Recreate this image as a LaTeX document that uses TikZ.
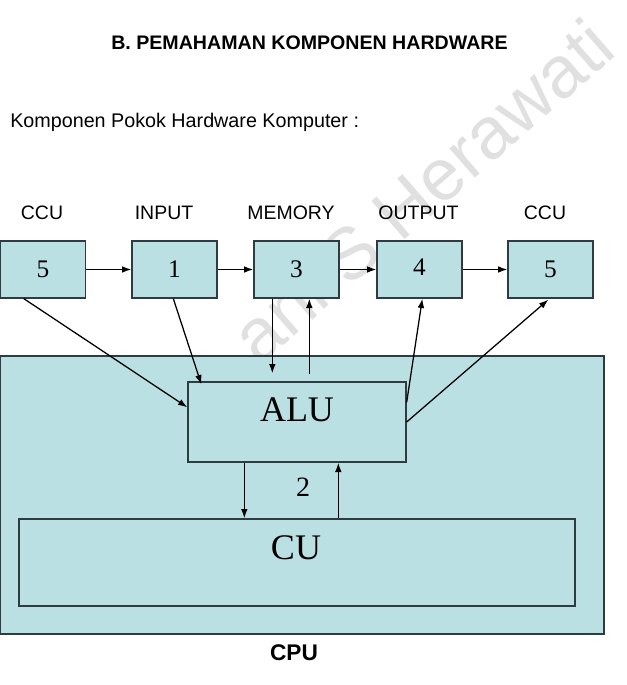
\documentclass[tikz,border=0pt]{standalone}
\usepackage{fontspec}
\setmainfont{Liberation Serif}
\newfontfamily\arialfont{Liberation Sans}
\usetikzlibrary{arrows.meta,calc}
\definecolor{boxfill}{HTML}{BBE0E3}
\definecolor{boxline}{HTML}{2E3B40}
\definecolor{wmark}{HTML}{E0E0E0}
\begin{document}
\begin{tikzpicture}[x=0.75pt,y=-0.75pt,
  box/.style={draw=boxline,fill=boxfill,line width=1pt,inner sep=0pt},
  topbox/.style={box,minimum width=63.75pt,minimum height=42.75pt,font=\fontsize{19pt}{21pt}\selectfont},
  sanslabel/.style={font=\arialfont\fontsize{14.6pt}{16pt}\selectfont,inner sep=0pt},
  arr/.style={-{Latex[length=7pt,width=5pt]},line width=0.95pt,black},
  bigtext/.style={font=\fontsize{27pt}{30pt}\selectfont,inner sep=0pt}]
\useasboundingbox (0,0) rectangle (626,685);
% watermark
\node[font=\arialfont\fontsize{55pt}{60pt}\selectfont,text=wmark,rotate=41,inner sep=0pt] (wm) at (422,190) {ani S Herawati};
% titles
\node[sanslabel,font=\arialfont\bfseries\fontsize{14.7pt}{16pt}\selectfont] (title) at (309.5,43) {B. PEMAHAMAN KOMPONEN HARDWARE};
\node[sanslabel,anchor=west,font=\arialfont\fontsize{14.8pt}{16pt}\selectfont] (sub) at (10,122) {Komponen Pokok Hardware Komputer :};
% labels
\node[sanslabel] (l1) at (42,213) {CCU};
\node[sanslabel] (l2) at (164,213) {INPUT};
\node[sanslabel] (l3) at (291,213) {MEMORY};
\node[sanslabel] (l4) at (418.5,213) {OUTPUT};
\node[sanslabel] (l5) at (545,213) {CCU};
% top boxes
\node[topbox] (b1) at (43,269.5) {5};
\node[topbox] (b2) at (174.5,269.5) {1};
\node[topbox] (b3) at (296.5,269.5) {3};
\node[topbox] (b4) at (419.5,269.5) {\raisebox{3pt}{4}};
\node[topbox] (b5) at (550.5,269.5) {5};
% CPU
\node[box,minimum width=453pt,minimum height=208.5pt] (cpu) at (302,495) {};
\node[box,minimum width=163.5pt,minimum height=60pt] (alu) at (297,422) {};
\node[box,minimum width=417pt,minimum height=65.25pt] (cu) at (297,562.5) {};
\node[bigtext] (alut) at (297,410) {ALU};
\node[bigtext] (cut) at (296,548) {CU};
\node[font=\fontsize{21pt}{24pt}\selectfont,inner sep=0pt] (two) at (303,487) {2};
\node[font=\arialfont\bfseries\fontsize{17pt}{19pt}\selectfont,inner sep=0pt] (cpul) at (294,653) {CPU};
% horizontal arrows
\draw[arr] (b1) -- (b2);
\draw[arr] (b2) -- (b3);
\draw[arr] (b3) -- (b4);
\draw[arr] (b4) -- (b5);
% arrows into ALU
\draw[arr] ($(b1.south west)+(24,0)$) -- ($(alu.north west)+(0,26)$);
\draw[arr] ($(b2.south west)+(42,0)$) -- ($(alu.north west)+(14,3)$);
\draw[arr] ($(b3.south west)+(19,0)$) -- ($(alu.north west)+(85,-8)$);
\draw[arr] ($(alu.north west)+(122,-7)$) -- ($(b3.south west)+(56,0)$);
\draw[arr] ($(alu.north east)+(0,21)$) -- ($(b4.south west)+(46,0)$);
\draw[arr] (alu.east) -- ($(b5.south west)+(41,1)$);
% ALU <-> CU
\draw[arr] ($(alu.south west)+(57,0)$) -- ($(cu.north west)+(226,0)$);
\draw[arr] ($(cu.north west)+(320,0)$) -- ($(alu.south west)+(151,0)$);
\end{tikzpicture}
\end{document}
